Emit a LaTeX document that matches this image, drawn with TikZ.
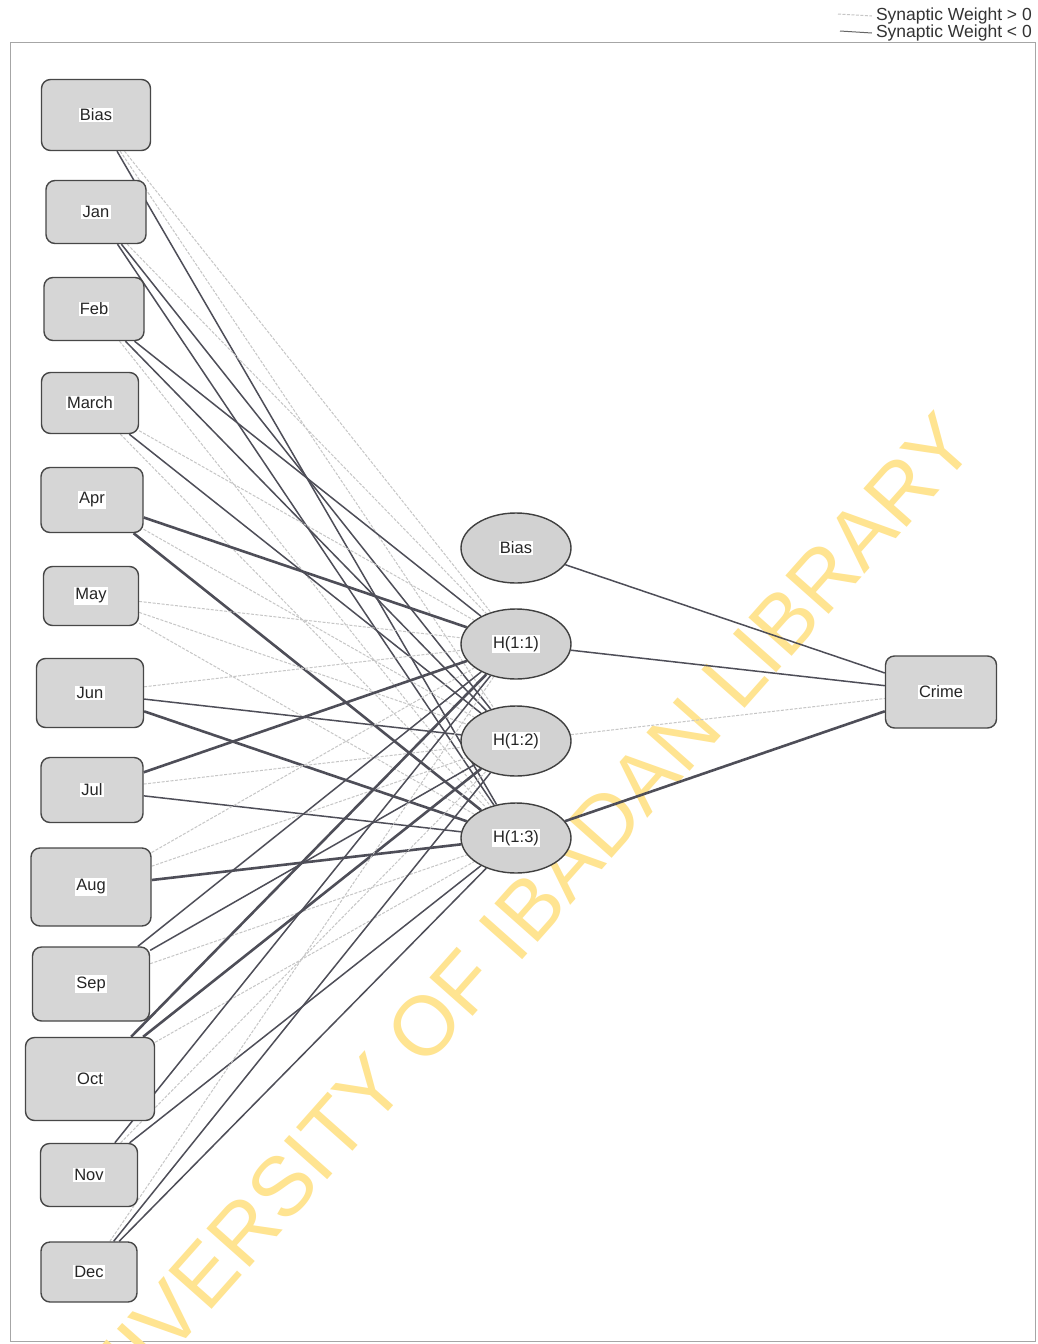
\documentclass[tikz,border=0pt]{standalone}
\usepackage{fontspec}
\setmainfont{Liberation Sans}
\usetikzlibrary{shapes.geometric,backgrounds}
\definecolor{wm}{RGB}{255,228,145}
\definecolor{dk}{RGB}{78,78,88}
\newcommand\lbl[1]{{\fboxsep=1.2pt\colorbox{white}{#1}}}
\begin{document}
\begin{tikzpicture}[x=1pt,y=-1pt,
  inbox/.style={draw=black!72, line width=1.4pt, rounded corners=9pt, fill=gray!32, inner sep=0pt, font=\fontsize{16.5}{19}\selectfont, text=black!85},
  hid/.style={ellipse, draw=black!75, line width=1.4pt, fill=gray!35, minimum width=110pt, minimum height=70pt, inner sep=0pt, font=\fontsize{16.5}{19}\selectfont, text=black!85},
  negwt/.style={draw=dk, line width=1.5pt},
  negthk/.style={draw=dk, line width=2.6pt},
  poswt/.style={draw=gray!45, line width=1pt, dash pattern=on 3pt off 1.5pt},
  legend/.style={font=\fontsize{17.5}{19}\selectfont, text=black!80, inner sep=0pt, anchor=east}
]
\useasboundingbox (0,0) rectangle (1038,1344);
% legend
\node[legend] (lg1) at (1032,16) {Synaptic Weight > 0};
\node[legend] (lg2) at (1032,33) {Synaptic Weight < 0};
\coordinate (lp) at (838,14);
\coordinate (ln) at (840,31);
\draw[poswt] (lp) -- ([xshift=-4pt]lg1.west);
\draw[draw=black!60, line width=1pt] (ln) -- ([xshift=-4pt]lg2.west);
% input layer
\node[inbox, minimum width=109pt, minimum height=71pt] (ib)  at (96,115)  {\lbl{Bias}};
\node[inbox, minimum width=100pt, minimum height=63pt] (jan) at (96,212)  {\lbl{Jan}};
\node[inbox, minimum width=100pt, minimum height=63pt] (feb) at (94,309)  {\lbl{Feb}};
\node[inbox, minimum width=97pt,  minimum height=61pt] (mar) at (90,403)  {\lbl{March}};
\node[inbox, minimum width=102pt, minimum height=65pt] (apr) at (92,500)  {\lbl{Apr}};
\node[inbox, minimum width=95pt,  minimum height=59pt] (may) at (91,596)  {\lbl{May}};
\node[inbox, minimum width=107pt, minimum height=69pt] (jun) at (90,693)  {\lbl{Jun}};
\node[inbox, minimum width=102pt, minimum height=65pt] (jul) at (92,790)  {\lbl{Jul}};
\node[inbox, minimum width=120pt, minimum height=78pt] (aug) at (91,887)  {\lbl{Aug}};
\node[inbox, minimum width=117pt, minimum height=74pt] (sep) at (91,984)  {\lbl{Sep}};
\node[inbox, minimum width=129pt, minimum height=83pt] (oct) at (90,1079) {\lbl{Oct}};
\node[inbox, minimum width=97pt,  minimum height=63pt] (nov) at (89,1175) {\lbl{Nov}};
\node[inbox, minimum width=96pt,  minimum height=60pt] (dec) at (89,1272) {\lbl{Dec}};
% hidden layer
\node[hid] (hb) at (516,548) {\lbl{Bias}};
\node[hid] (h1) at (516,644) {\lbl{H(1:1)}};
\node[hid] (h2) at (516,741) {\lbl{H(1:2)}};
\node[hid] (h3) at (516,838) {\lbl{H(1:3)}};
% output
\node[inbox, minimum width=111pt, minimum height=72pt] (crime) at (941,692) {\lbl{Crime}};
% connectors and frame behind the nodes
\begin{scope}[on background layer]
\fill[white] (0,0) rectangle (1038,1344);
\draw[gray!70, line width=1pt] (10,42) rectangle (1035,1341);
\node[rotate=48.4, text=wm, font=\fontsize{84}{86}\selectfont, inner sep=0pt] (wmk) at (505,936) {UNIVERSITY OF IBADAN LIBRARY};
\foreach \s/\h/\st in {
  ib/h1/poswt, ib/h2/poswt, ib/h3/negwt,
  jan/h1/poswt, jan/h2/negwt, jan/h3/negwt,
  feb/h1/negwt, feb/h2/negwt, feb/h3/poswt,
  mar/h1/poswt, mar/h2/negwt, mar/h3/poswt,
  apr/h1/negthk, apr/h2/poswt, apr/h3/negthk,
  may/h1/poswt, may/h2/poswt, may/h3/poswt,
  jun/h1/poswt, jun/h2/negwt, jun/h3/negthk,
  jul/h1/negthk, jul/h2/poswt, jul/h3/negwt,
  aug/h1/poswt, aug/h2/poswt, aug/h3/negthk,
  sep/h1/negwt, sep/h2/negwt, sep/h3/poswt,
  oct/h1/negthk, oct/h2/negthk, oct/h3/poswt,
  nov/h1/negwt, nov/h2/poswt, nov/h3/negwt,
  dec/h1/poswt, dec/h2/negwt, dec/h3/negwt}
  \draw[\st] (\s) -- (\h);
\draw[negwt] (hb) -- (crime);
\draw[negwt] (h1) -- (crime);
\draw[poswt] (h2) -- (crime);
\draw[negthk] (h3) -- (crime);
\end{scope}
\end{tikzpicture}
\end{document}
